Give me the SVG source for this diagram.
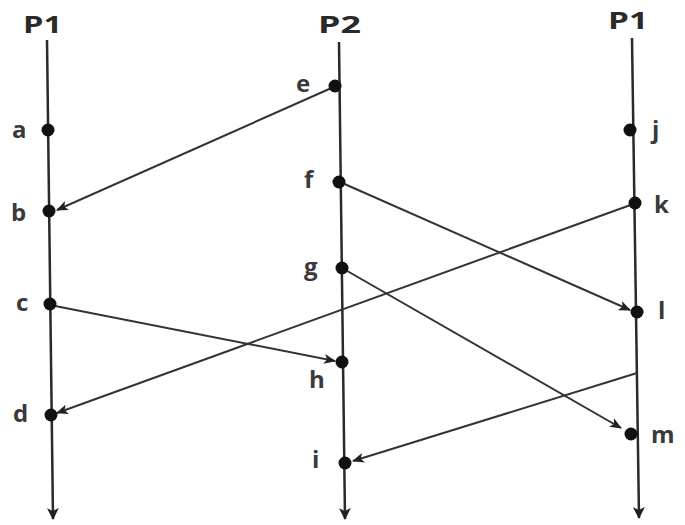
<svg xmlns="http://www.w3.org/2000/svg" width="685" height="525" viewBox="0 0 685 525">
<defs>
<style>
.lbl{font-family:"Open Sans","Liberation Sans",sans-serif;font-weight:bold;font-size:24px;fill:#3a3a3a}
.head{font-family:"Open Sans","Liberation Sans",sans-serif;font-weight:bold;font-size:23px;fill:#2a2a2a}
.proc{stroke:#2a2a2a;stroke-width:2.5;fill:none}
.msg{stroke:#333;stroke-width:2;fill:none}
.dot{fill:#111}
</style>
<marker id="ah" viewBox="0 0 12 10" refX="11" refY="5" markerWidth="12" markerHeight="10" markerUnits="userSpaceOnUse" orient="auto">
<path d="M0,0 L12,5 L0,10 L3,5 Z" fill="#222"/>
</marker>
<marker id="ahp" viewBox="0 0 12 12" refX="11" refY="6" markerWidth="12" markerHeight="12" markerUnits="userSpaceOnUse" orient="auto">
<path d="M0,0 L12,6 L0,12 L3,6 Z" fill="#222"/>
</marker>
</defs>
<rect width="685" height="525" fill="#fff"/>
<g id="process-left">
<text class="head" x="23" y="33" textLength="39" lengthAdjust="spacingAndGlyphs">P1</text>
<line class="proc" x1="47" y1="40" x2="53" y2="519" marker-end="url(#ahp)"/>
</g>
<g id="process-middle">
<text class="head" x="318" y="33" textLength="43" lengthAdjust="spacingAndGlyphs">P2</text>
<line class="proc" x1="339" y1="42" x2="345" y2="519" marker-end="url(#ahp)"/>
</g>
<g id="process-right">
<text class="head" x="608" y="29" textLength="40" lengthAdjust="spacingAndGlyphs">P1</text>
<line class="proc" x1="632" y1="38" x2="639" y2="518" marker-end="url(#ahp)"/>
</g>
<g id="connectors">
<line class="msg" x1="336" y1="86" x2="57" y2="210" marker-end="url(#ah)"/>
<line class="msg" x1="340" y1="182" x2="630" y2="310" marker-end="url(#ah)"/>
<line class="msg" x1="636" y1="203" x2="57" y2="413" marker-end="url(#ah)"/>
<line class="msg" x1="50" y1="305" x2="335" y2="361" marker-end="url(#ah)"/>
<line class="msg" x1="342" y1="268" x2="621" y2="428" marker-end="url(#ah)"/>
<line class="msg" x1="637" y1="373" x2="353" y2="461" marker-end="url(#ah)"/>
</g>
<g id="node-a"><circle class="dot" cx="48" cy="130" r="6.5"/><text class="lbl" x="12" y="138">a</text></g>
<g id="node-b"><circle class="dot" cx="49" cy="211" r="6.5"/><text class="lbl" x="11" y="221">b</text></g>
<g id="node-c"><circle class="dot" cx="50" cy="304" r="6.5"/><text class="lbl" x="16" y="311">c</text></g>
<g id="node-d"><circle class="dot" cx="51" cy="415" r="6.5"/><text class="lbl" x="13" y="422">d</text></g>
<g id="node-e"><circle class="dot" cx="335" cy="86" r="6.5"/><text class="lbl" x="296" y="92">e</text></g>
<g id="node-f"><circle class="dot" cx="339" cy="182" r="6.5"/><text class="lbl" x="304" y="188">f</text></g>
<g id="node-g"><circle class="dot" cx="342" cy="268" r="6.5"/><text class="lbl" x="304" y="275">g</text></g>
<g id="node-h"><circle class="dot" cx="342" cy="362" r="6.5"/><text class="lbl" x="309" y="388">h</text></g>
<g id="node-i"><circle class="dot" cx="345" cy="463" r="6.5"/><text class="lbl" x="312" y="468">i</text></g>
<g id="node-j"><circle class="dot" cx="630" cy="130" r="6.5"/><text class="lbl" x="652" y="138">j</text></g>
<g id="node-k"><circle class="dot" cx="635" cy="203" r="6.5"/><text class="lbl" x="654" y="213">k</text></g>
<g id="node-l"><circle class="dot" cx="637" cy="312" r="6.5"/><text class="lbl" x="658" y="319">l</text></g>
<g id="node-m"><circle class="dot" cx="631" cy="434" r="6.5"/><text class="lbl" x="651" y="443">m</text></g>
</svg>
